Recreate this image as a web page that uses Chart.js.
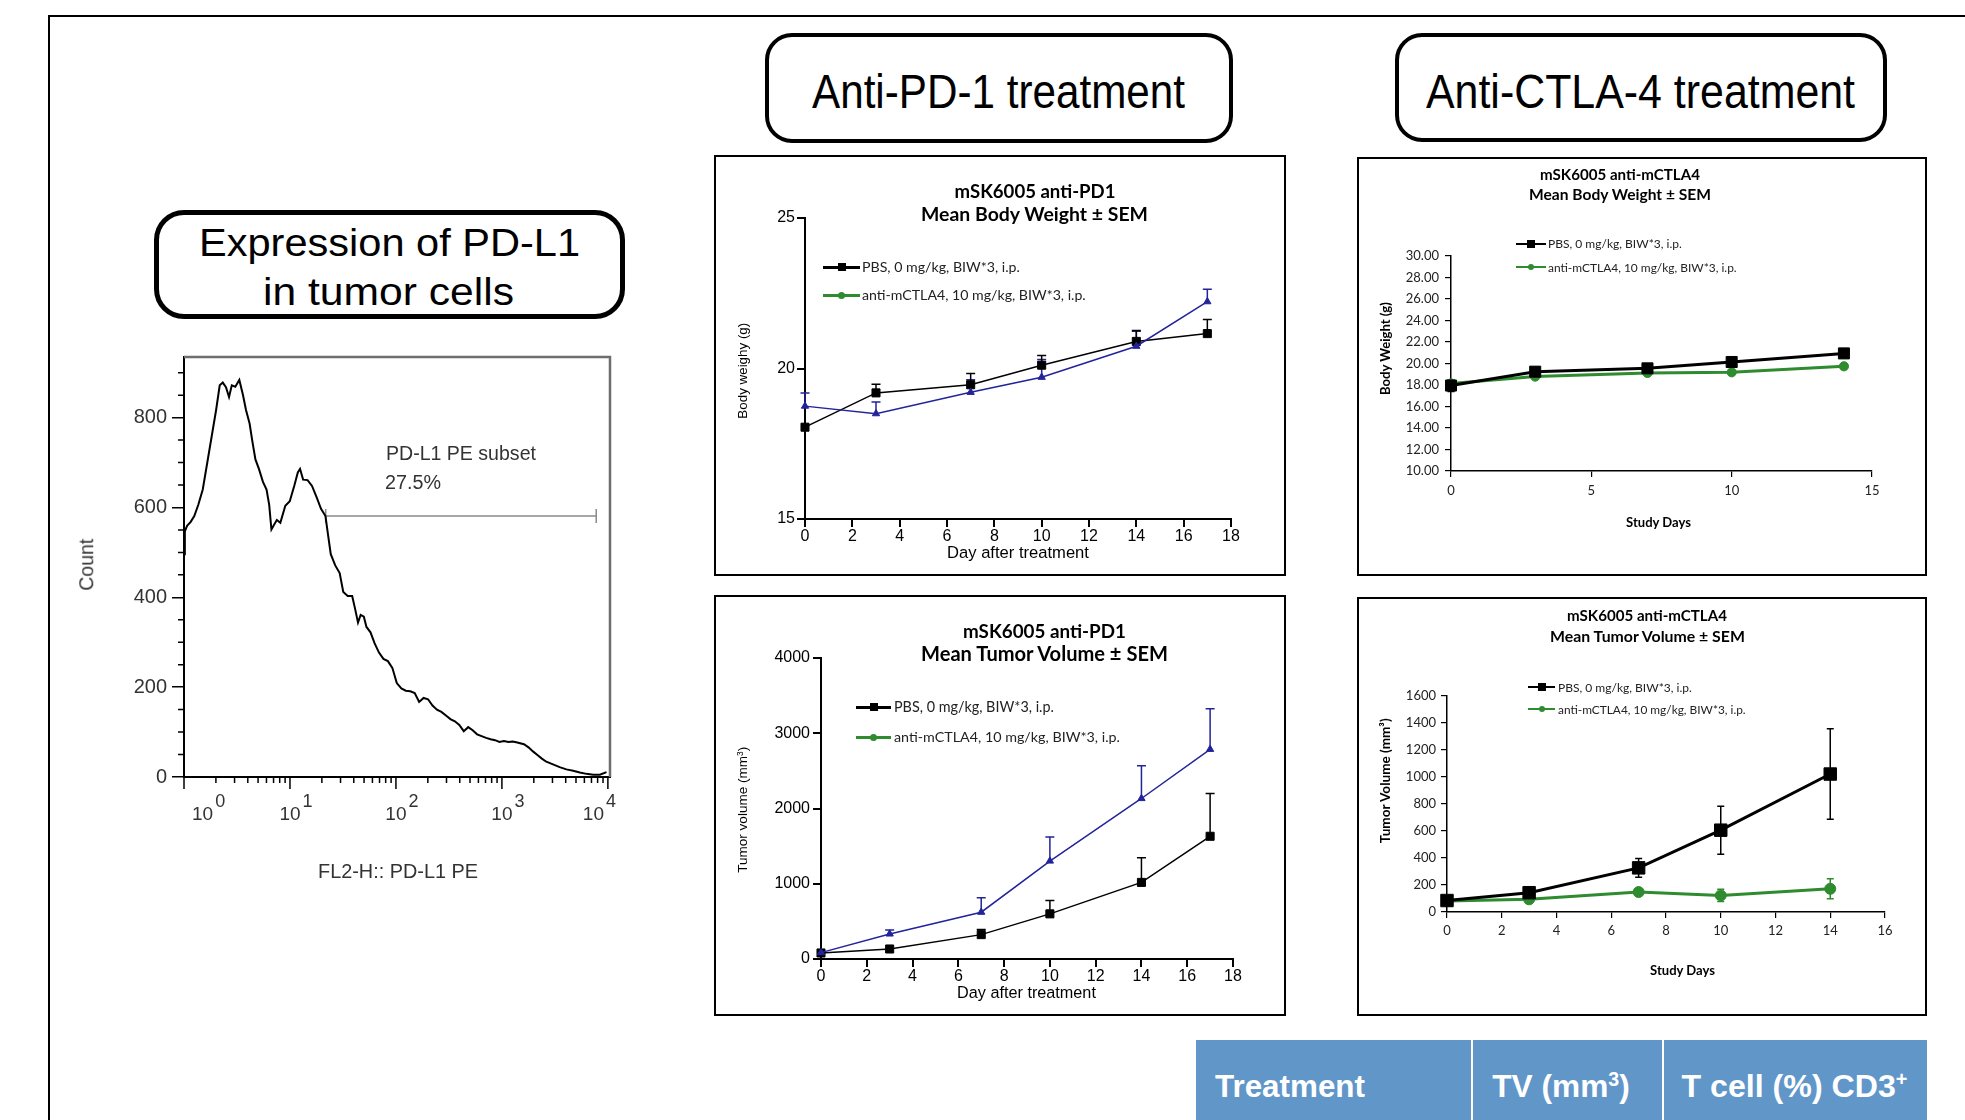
<!DOCTYPE html>
<html>
<head>
<meta charset="utf-8">
<script src="https://cdn.jsdelivr.net/npm/chart.js@4.4.1/dist/chart.umd.min.js"></script>
<style>
html,body{margin:0;padding:0;background:#fff;}
body{width:1965px;height:1120px;overflow:hidden;position:relative;}
.t{position:absolute;white-space:nowrap;line-height:1;transform-origin:0 0;}
.t i{display:inline-block;width:0;height:0;}
.t sup{font-size:0.62em;vertical-align:0.55em;line-height:0;}
.box{position:absolute;box-sizing:border-box;border:4.5px solid #000;background:#fff;}
.panel{position:absolute;box-sizing:border-box;border:2px solid #000;pointer-events:none;}
canvas{position:absolute;}
.blk{position:absolute;}
</style>
</head>
<body>
<script>
// ================= DATA =================
const legendPbs = 'PBS, 0 mg/kg, BIW*3, i.p.';
const legendTrt = 'anti-mCTLA4, 10 mg/kg, BIW*3, i.p.';

// Flow-cytometry histogram (x = log10 of FL2-H intensity, y = count)
const histLogFL = [0.000,0.008,0.029,0.063,0.097,0.135,0.177,0.219,0.261,0.303,
  0.337,0.366,0.396,0.425,0.451,0.484,0.522,0.556,0.585,0.619,
  0.644,0.674,0.707,0.745,0.779,0.804,0.825,0.846,0.876,0.909,
  0.956,0.998,1.040,1.074,1.095,1.124,1.166,1.208,1.251,1.293,
  1.335,1.360,1.385,1.427,1.469,1.503,1.545,1.587,1.613,1.642,
  1.667,1.697,1.722,1.760,1.798,1.840,1.882,1.924,1.966,2.008,
  2.051,2.093,2.135,2.177,2.219,2.261,2.303,2.345,2.387,2.429,
  2.472,2.514,2.556,2.598,2.640,2.682,2.724,2.766,2.808,2.851,
  2.893,2.935,2.977,3.019,3.061,3.103,3.145,3.208,3.251,3.293,
  3.335,3.377,3.419,3.482,3.545,3.608,3.672,3.735,3.798,3.861,
  3.924,3.987];
const histCount = [496,547,559,568,581,606,640,699,758,817,
  872,878,868,846,872,869,884,851,817,787,
  749,707,686,657,640,606,551,560,572,566,
  604,614,648,678,686,662,661,648,623,597,
  581,538,496,471,454,412,403,403,376,344,
  361,357,334,322,298,277,263,258,243,209,
  197,192,191,187,167,176,173,159,150,145,
  137,129,124,116,102,111,104,95,91,87,
  84,82,78,80,78,79,77,73,66,57,
  49,41,34,28,22,17,14,10,7,5,
  5,11];
const gateLogFL = [1.337, 3.89];
const gateCount = [581, 581];
const gateLabel = 'PD-L1 PE subset';
const gatePercent = '27.5%';
const histDecades = [0, 1, 2, 3, 4];
const countMinorTicks = [50,100,150,250,300,350,450,500,550,650,700,750,850,900];

// Anti-PD-1 study
const pd1Days = [0, 3, 7, 10, 14, 17];
const pd1BwPbs = [18.05, 19.19, 19.46, 20.11, 20.90, 21.16];
const pd1BwPbsSem = [0, 0.29, 0.37, 0.32, 0.36, 0.47];
const pd1BwTrt = [18.75, 18.50, 19.21, 19.71, 20.74, 22.22];
const pd1BwTrtSem = [0.44, 0.39, 0.42, 0.59, 0.50, 0.41];
const pd1TvPbs = [80, 133, 324, 600, 1018, 1631];
const pd1TvPbsSem = [0, 0, 67, 178, 329, 569];
const pd1TvTrt = [85, 333, 622, 1302, 2133, 2787];
const pd1TvTrtSem = [0, 54, 191, 320, 436, 537];

// Anti-CTLA-4 study
const ctlaDays = [0, 3, 7, 10, 14];
const ctlaBwPbs = [17.95, 19.24, 19.55, 20.14, 20.94];
const ctlaBwPbsSem = [0.55, 0.2, 0.2, 0.2, 0.2];
const ctlaBwTrt = [18.15, 18.78, 19.12, 19.18, 19.74];
const ctlaBwTrtSem = [0.2, 0.2, 0.2, 0.2, 0.2];
const ctlaTvPbs = [85, 143, 327, 606, 1022];
const ctlaTvPbsSem = [10, 15, 70, 178, 335];
const ctlaTvTrt = [81, 94, 148, 123, 172];
const ctlaTvTrtSem = [8, 12, 15, 45, 74];

const tableHeaders = ['Treatment', 'TV (mm<sup>3</sup>)', 'T cell (%) CD3<sup>+</sup>'];

// ================= STYLE / LAYOUT =================
const ARIAL = '"Liberation Sans", Arial, Helvetica, sans-serif';
const CAL = 'Lato, "Open Sans", "Liberation Sans", sans-serif';
const NAVY = '#23239b';
const GREEN = '#2e8b2e';

function T(o) {
  const d = document.createElement('div');
  d.className = 't';
  d.style.fontFamily = o.fam;
  d.style.fontWeight = o.bold ? 'bold' : 'normal';
  d.style.fontSize = o.size + 'px';
  d.style.color = o.color || '#000';
  d.innerHTML = '<span>' + o.html + '</span><i></i>';
  document.body.appendChild(d);
  const span = d.firstChild;
  let nat = span.getBoundingClientRect().width;
  let sx = 1;
  if (o.w) {
    if (o.stretch) sx = o.w / nat;
    else {
      d.style.fontSize = (o.size * o.w / nat) + 'px';
      nat = span.getBoundingClientRect().width;
    }
  }
  if (o.rot) {
    const h = d.offsetHeight;
    d.style.left = (o.cx - nat / 2) + 'px';
    d.style.top = (o.cy - h / 2) + 'px';
    d.style.transformOrigin = '50% 50%';
    d.style.transform = 'rotate(-90deg)';
    return d;
  }
  const base = d.lastChild.offsetTop;
  const width = nat * sx;
  const left = o.align === 'left' ? o.x : (o.align === 'right' ? o.x - width : o.x - width / 2);
  d.style.left = left + 'px';
  d.style.top = (o.base - base) + 'px';
  if (sx !== 1) d.style.transform = 'scaleX(' + sx + ')';
  return d;
}

function blk(x, y, w, h, css) {
  const d = document.createElement('div');
  d.className = 'blk';
  Object.assign(d.style, {left: x + 'px', top: y + 'px', width: w + 'px', height: h + 'px'}, css || {});
  document.body.appendChild(d);
  return d;
}

function roundBox(x, y, w, h, r, bw) {
  const d = blk(x, y, w, h, {borderRadius: r + 'px', borderWidth: bw + 'px'});
  d.className = 'box';
}

function panel(rect) {
  const d = blk(rect.x, rect.y, rect.w, rect.h);
  d.className = 'panel';
}

function legendSym(x1, x2, y, color, lw, shape, size) {
  blk(x1, y - lw / 2, x2 - x1, lw, {background: color});
  const cx = (x1 + x2) / 2;
  blk(cx - size / 2, y - size / 2, size, size, {background: color, borderRadius: shape === 'circle' ? '50%' : '0'});
}

// ---------- page frame ----------
blk(48, 15, 1917, 2, {background: '#000'});
blk(48, 15, 2, 1105, {background: '#000'});

// ---------- rounded heading boxes ----------
roundBox(154, 210, 471, 109, 30, 5);
roundBox(765, 33, 468, 110, 27, 4.5);
roundBox(1395, 33, 492, 109, 27, 4.5);
T({html: 'Expression of PD-L1', fam: ARIAL, size: 38.7, x: 389, base: 256, w: 381, stretch: true});
T({html: 'in tumor cells', fam: ARIAL, size: 38.7, x: 388, base: 305, w: 251, stretch: true});
T({html: 'Anti-PD-1 treatment', fam: ARIAL, size: 49, x: 998.5, base: 108.3, w: 373, stretch: true});
T({html: 'Anti-CTLA-4 treatment', fam: ARIAL, size: 48, x: 1640, base: 107.5, w: 429, stretch: true});

// ---------- chart plumbing ----------
Chart.defaults.font.family = ARIAL;
Chart.defaults.color = '#000';

const errorBars = {
  id: 'errorBars',
  beforeDatasetsDraw(chart) {
    const ctx = chart.ctx;
    chart.data.datasets.forEach((ds) => {
      if (!ds.sem) return;
      const xs = chart.scales.x, ys = chart.scales.y;
      ctx.save();
      ctx.strokeStyle = ds.borderColor;
      ctx.lineWidth = ds.semWidth || 1.5;
      ds.data.forEach((p, j) => {
        const e = ds.sem[j];
        if (!e) return;
        const px = xs.getPixelForValue(p.x);
        const pt = ys.getPixelForValue(p.y + e);
        const pb = ds.semUpOnly ? ys.getPixelForValue(p.y) : ys.getPixelForValue(p.y - e);
        const c = ds.semCap || 4;
        ctx.beginPath();
        ctx.moveTo(px, pt); ctx.lineTo(px, pb);
        ctx.moveTo(px - c, pt); ctx.lineTo(px + c, pt);
        if (!ds.semUpOnly) { ctx.moveTo(px - c, pb); ctx.lineTo(px + c, pb); }
        ctx.stroke();
      });
      ctx.restore();
    });
  }
};

function mkChart(rect, area, cfg) {
  const c = document.createElement('canvas');
  c.width = rect.w; c.height = rect.h;
  Object.assign(c.style, {left: rect.x + 'px', top: rect.y + 'px', width: rect.w + 'px', height: rect.h + 'px'});
  document.body.appendChild(c);
  const o = cfg.options;
  o.responsive = false; o.maintainAspectRatio = false; o.animation = false; o.devicePixelRatio = 1; o.events = [];
  o.layout = {padding: {left: 0, bottom: 0, top: area.top - rect.y, right: rect.x + rect.w - area.right}};
  const xH = rect.y + rect.h - area.bottom, yW = area.left - rect.x;
  o.scales.x.afterFit = s => { s.height = xH; };
  o.scales.y.afterFit = s => { s.width = yW; };
  o.plugins = Object.assign({legend: {display: false}, tooltip: {enabled: false}, title: {display: false}}, o.plugins || {});
  return new Chart(c, cfg);
}

function gpAxis(min, max, step, pad) {
  return {type: 'linear', min, max,
    ticks: {stepSize: step, includeBounds: false, font: {family: ARIAL, size: 16}, color: '#000', padding: pad, maxRotation: 0, autoSkip: false, callback: v => String(v)},
    grid: {drawOnChartArea: false, drawTicks: true, tickLength: 8, color: '#000', lineWidth: 2},
    border: {display: true, color: '#000', width: 2}};
}
function xlAxis(min, max, step, pad, fmt) {
  return {type: 'linear', min, max,
    ticks: {stepSize: step, includeBounds: false, font: {family: CAL, size: 13}, color: '#222', padding: pad, maxRotation: 0, autoSkip: false, callback: fmt || (v => String(v))},
    grid: {drawOnChartArea: false, drawTicks: true, tickLength: 6, color: '#000', lineWidth: 1.2},
    border: {display: true, color: '#000', width: 1.5}};
}
function series(label, days, vals, sem, style) {
  return Object.assign({label, data: days.map((d, i) => ({x: d, y: vals[i]})), sem, clip: false, tension: 0, fill: false}, style);
}
const gpPbs = {borderColor: '#000', backgroundColor: '#000', borderWidth: 1.5, pointStyle: 'rect', pointRadius: 5.7,
  pointBackgroundColor: '#000', pointBorderColor: '#000', pointBorderWidth: 1, semUpOnly: true, semCap: 4.5, semWidth: 1.5};
const gpTrt = {borderColor: NAVY, backgroundColor: NAVY, borderWidth: 1.5, pointStyle: 'triangle', pointRadius: 4.2,
  pointBackgroundColor: NAVY, pointBorderColor: NAVY, pointBorderWidth: 1, semUpOnly: true, semCap: 4.5, semWidth: 1.5};
function xlPbs(r) { return {borderColor: '#000', backgroundColor: '#000', borderWidth: 3, pointStyle: 'rect', pointRadius: r,
  pointBackgroundColor: '#000', pointBorderColor: '#000', pointBorderWidth: 1, semCap: 3.5, semWidth: 1.5}; }
function xlTrt(r) { return {borderColor: GREEN, backgroundColor: GREEN, borderWidth: 3, pointStyle: 'circle', pointRadius: r,
  pointBackgroundColor: GREEN, pointBorderColor: GREEN, pointBorderWidth: 1, semCap: 3.5, semWidth: 1.5}; }

// ---------- histogram ----------
const flowAxes = {
  id: 'flowAxes',
  beforeDatasetsDraw(chart) {
    const {ctx, chartArea: a, scales: {x, y}} = chart;
    ctx.save();
    ctx.strokeStyle = '#6e6e6e'; ctx.lineWidth = 2.5;
    ctx.beginPath(); ctx.moveTo(a.left, a.top); ctx.lineTo(a.right, a.top); ctx.lineTo(a.right, a.bottom); ctx.stroke();
    ctx.strokeStyle = '#000'; ctx.lineWidth = 1.5;
    ctx.beginPath();
    countMinorTicks.forEach(v => { const py = y.getPixelForValue(v); ctx.moveTo(a.left - 6, py); ctx.lineTo(a.left, py); });
    const lastDec = histDecades[histDecades.length - 1];
    histDecades.forEach(d => {
      const px = x.getPixelForValue(d);
      ctx.moveTo(px, a.bottom); ctx.lineTo(px, a.bottom + 12);
      if (d < lastDec) {
        for (let k = 2; k <= 9; k++) {
          const q = x.getPixelForValue(d + Math.log10(k));
          ctx.moveTo(q, a.bottom); ctx.lineTo(q, a.bottom + 6);
        }
      }
    });
    ctx.stroke();
    ctx.fillStyle = '#333'; ctx.textBaseline = 'alphabetic'; ctx.textAlign = 'left';
    const fBase = '19px ' + ARIAL, fExp = '18px ' + ARIAL;
    histDecades.forEach(d => {
      const px = x.getPixelForValue(d);
      ctx.font = fBase; const wb = ctx.measureText('10').width;
      ctx.font = fExp; const we = ctx.measureText(String(d)).width;
      let left = Math.max(px - wb / 2, a.left + 8);
      if (left + wb + 2 + we > a.right + 6) left = a.right + 6 - (wb + 2 + we);
      ctx.font = fBase; ctx.fillText('10', left, a.bottom + 43);
      ctx.font = fExp; ctx.fillText(String(d), left + wb + 2, a.bottom + 29.5);
    });
    ctx.strokeStyle = '#8a8a8a'; ctx.lineWidth = 1.5;
    ctx.beginPath();
    gateLogFL.forEach((g, i) => {
      const px = x.getPixelForValue(g), py = y.getPixelForValue(gateCount[i]);
      ctx.moveTo(px, py - 7); ctx.lineTo(px, py + 7);
    });
    ctx.stroke();
    ctx.restore();
  }
};

mkChart({x: 40, y: 340, w: 600, h: 560}, {left: 184, top: 353, right: 610, bottom: 777}, {
  type: 'line',
  data: {datasets: [
    {data: histLogFL.map((v, i) => ({x: v, y: histCount[i]})), borderColor: '#000', borderWidth: 2, pointRadius: 0, tension: 0, clip: false},
    {data: gateLogFL.map((v, i) => ({x: v, y: gateCount[i]})), borderColor: '#8a8a8a', borderWidth: 1.5, pointRadius: 0, tension: 0, clip: false}
  ]},
  options: {scales: {
    x: {type: 'linear', min: 0, max: 4.02, ticks: {display: false}, grid: {display: false}, border: {display: true, color: '#000', width: 2}},
    y: {type: 'linear', min: 0, max: 935,
      ticks: {stepSize: 200, includeBounds: false, font: {family: ARIAL, size: 20}, color: '#333', padding: 5, callback: v => String(v)},
      grid: {drawOnChartArea: false, drawTicks: true, tickLength: 12, color: '#000', lineWidth: 1.5},
      border: {display: true, color: '#000', width: 2}}
  }},
  plugins: [flowAxes]
});
T({html: gateLabel, fam: ARIAL, size: 19, x: 386, base: 459.5, align: 'left', w: 150, color: '#333'});
T({html: gatePercent, fam: ARIAL, size: 19, x: 385, base: 489, align: 'left', w: 56, color: '#333'});
T({html: 'Count', fam: ARIAL, size: 20, cx: 87, cy: 564, rot: true, w: 52, color: '#333'});
T({html: 'FL2-H:: PD-L1 PE', fam: ARIAL, size: 20, x: 398, base: 877.7, w: 160, color: '#333'});

// ---------- panel 1: anti-PD1 body weight ----------
const P1 = {x: 714, y: 155, w: 572, h: 421};
mkChart(P1, {left: 805, top: 218, right: 1231, bottom: 519}, {
  type: 'line',
  data: {datasets: [
    series(legendTrt, pd1Days, pd1BwTrt, pd1BwTrtSem, gpTrt),
    series(legendPbs, pd1Days, pd1BwPbs, pd1BwPbsSem, gpPbs)
  ]},
  options: {scales: {x: gpAxis(0, 18, 2, 0), y: gpAxis(15, 25, 5, 2)}},
  plugins: [errorBars]
});
panel(P1);
T({html: 'mSK6005 anti-PD1', fam: CAL, bold: true, size: 18, x: 1035, base: 198, w: 161});
T({html: 'Mean Body Weight ± SEM', fam: CAL, bold: true, size: 18, x: 1034.5, base: 221, w: 227});
legendSym(823, 860, 267, '#000', 3, 'square', 8);
legendSym(823, 860, 295, GREEN, 3, 'circle', 7);
T({html: legendPbs, fam: CAL, size: 14, x: 862, base: 272, align: 'left', w: 158, color: '#222'});
T({html: legendTrt, fam: CAL, size: 14, x: 862, base: 300, align: 'left', w: 224, color: '#222'});
T({html: 'Body weighy (g)', fam: ARIAL, size: 13.5, cx: 743, cy: 370, rot: true, w: 96});
T({html: 'Day after treatment', fam: ARIAL, size: 16.5, x: 1018, base: 558, w: 142});

// ---------- panel 2: anti-CTLA4 body weight ----------
const P2 = {x: 1357, y: 157, w: 570, h: 419};
mkChart(P2, {left: 1451, top: 256, right: 1872, bottom: 471}, {
  type: 'line',
  data: {datasets: [
    series(legendPbs, ctlaDays, ctlaBwPbs, ctlaBwPbsSem, xlPbs(7.8)),
    series(legendTrt, ctlaDays, ctlaBwTrt, ctlaBwTrtSem, xlTrt(4.6))
  ]},
  options: {scales: {x: xlAxis(0, 15, 5, 6), y: xlAxis(10, 30, 2, 6, v => v.toFixed(2))}},
  plugins: [errorBars]
});
panel(P2);
T({html: 'mSK6005 anti-mCTLA4', fam: CAL, bold: true, size: 15, x: 1620, base: 180, w: 160});
T({html: 'Mean Body Weight ± SEM', fam: CAL, bold: true, size: 15, x: 1620, base: 200, w: 182});
legendSym(1516, 1546, 244, '#000', 2.5, 'square', 8);
legendSym(1516, 1546, 267, GREEN, 2.5, 'circle', 6);
T({html: legendPbs, fam: CAL, size: 12, x: 1548, base: 247.5, align: 'left', w: 134, color: '#222'});
T({html: legendTrt, fam: CAL, size: 12, x: 1548, base: 271.5, align: 'left', w: 189, color: '#222'});
T({html: 'Body Weight (g)', fam: CAL, bold: true, size: 13, cx: 1385, cy: 348, rot: true, w: 93});
T({html: 'Study Days', fam: CAL, bold: true, size: 13, x: 1658.5, base: 527, w: 65});

// ---------- panel 3: anti-PD1 tumor volume ----------
const P3 = {x: 714, y: 595, w: 572, h: 421};
mkChart(P3, {left: 821, top: 658, right: 1233, bottom: 959}, {
  type: 'line',
  data: {datasets: [
    series(legendTrt, pd1Days, pd1TvTrt, pd1TvTrtSem, gpTrt),
    series(legendPbs, pd1Days, pd1TvPbs, pd1TvPbsSem, gpPbs)
  ]},
  options: {scales: {x: gpAxis(0, 18, 2, 0), y: gpAxis(0, 4000, 1000, 3)}},
  plugins: [errorBars]
});
panel(P3);
T({html: 'mSK6005 anti-PD1', fam: CAL, bold: true, size: 18, x: 1044.5, base: 637.5, w: 163});
T({html: 'Mean Tumor Volume ± SEM', fam: CAL, bold: true, size: 18, x: 1044.5, base: 661, w: 247});
legendSym(856, 891, 707, '#000', 3, 'square', 8);
legendSym(856, 891, 737, GREEN, 3, 'circle', 7);
T({html: legendPbs, fam: CAL, size: 14, x: 894, base: 712, align: 'left', w: 160, color: '#222'});
T({html: legendTrt, fam: CAL, size: 14, x: 894, base: 742, align: 'left', w: 226, color: '#222'});
T({html: 'Tumor volume (mm<sup>3</sup>)', fam: ARIAL, size: 13.5, cx: 743, cy: 810, rot: true, w: 126});
T({html: 'Day after treatment', fam: ARIAL, size: 16.5, x: 1026.5, base: 997.5, w: 139});

// ---------- panel 4: anti-CTLA4 tumor volume ----------
const P4 = {x: 1357, y: 597, w: 570, h: 419};
mkChart(P4, {left: 1447, top: 696, right: 1885, bottom: 912}, {
  type: 'line',
  data: {datasets: [
    series(legendPbs, ctlaDays, ctlaTvPbs, ctlaTvPbsSem, xlPbs(8.8)),
    series(legendTrt, ctlaDays, ctlaTvTrt, ctlaTvTrtSem, xlTrt(5.5))
  ]},
  options: {scales: {x: xlAxis(0, 16, 2, 5), y: xlAxis(0, 1600, 200, 5)}},
  plugins: [errorBars]
});
panel(P4);
T({html: 'mSK6005 anti-mCTLA4', fam: CAL, bold: true, size: 15, x: 1647, base: 621, w: 160});
T({html: 'Mean Tumor Volume ± SEM', fam: CAL, bold: true, size: 15, x: 1647.5, base: 642, w: 195});
legendSym(1528, 1555, 687, '#000', 2.5, 'square', 8);
legendSym(1528, 1555, 709, GREEN, 2.5, 'circle', 6);
T({html: legendPbs, fam: CAL, size: 12, x: 1558, base: 691.5, align: 'left', w: 134, color: '#222'});
T({html: legendTrt, fam: CAL, size: 12, x: 1558, base: 713.5, align: 'left', w: 188, color: '#222'});
T({html: 'Tumor Volume (mm³)', fam: CAL, bold: true, size: 13, cx: 1385, cy: 781, rot: true, w: 125});
T({html: 'Study Days', fam: CAL, bold: true, size: 13, x: 1682.5, base: 974.5, w: 65});

// ---------- table header ----------
blk(1196, 1040, 731, 100, {background: '#6196c9'});
blk(1471, 1040, 2, 100, {background: '#fff'});
blk(1662, 1040, 2, 100, {background: '#fff'});
T({html: tableHeaders[0], fam: ARIAL, bold: true, size: 31, x: 1215, base: 1097, align: 'left', w: 150, color: '#fff'});
T({html: tableHeaders[1], fam: ARIAL, bold: true, size: 31, x: 1561, base: 1097, w: 137.5, color: '#fff'});
T({html: tableHeaders[2], fam: ARIAL, bold: true, size: 31, x: 1794.5, base: 1097, w: 226, color: '#fff'});
</script>
</body>
</html>
